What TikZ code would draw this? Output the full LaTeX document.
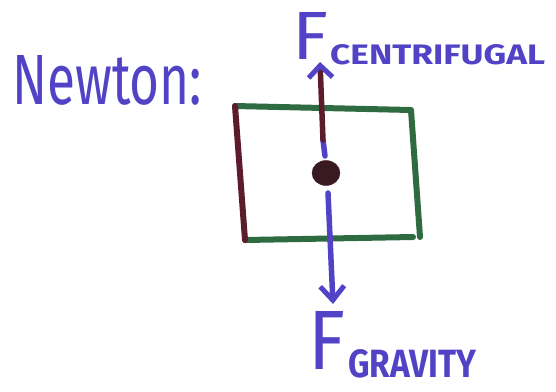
\documentclass[tikz,border=0pt]{standalone}
\usepackage{fontspec}
\setmainfont{Fira Sans}
\usetikzlibrary{arrows.meta,shapes.geometric}
\definecolor{ink}{HTML}{5243C6}
\definecolor{boxgreen}{HTML}{2F6B40}
\definecolor{maroon}{HTML}{5C1C2C}
\definecolor{dotc}{HTML}{3A1A22}
\tikzset{
  lbl/.style={anchor=south west,inner sep=0pt,text=ink,font=\bfseries},
  edge/.style={line width=6bp,line cap=round,line join=round},
  force/.style={line width=5.5bp,line cap=round},
}
\begin{document}
\begin{tikzpicture}[x=1bp,y=-1bp]
\useasboundingbox[fill=white] (0,0) rectangle (556,391);
% labels
\node[lbl,font=\mdseries] (newton) at (12,106) {\resizebox{190bp}{49bp}{Newton:}};
\node[lbl,font=\mdseries] (fc) at (292,60) {\resizebox{36bp}{47bp}{F}};
\node[lbl] (cf) at (330,65) {\resizebox{215bp}{20bp}{CENTRIFUGAL}};
\node[lbl,font=\mdseries] (fg) at (308,370) {\resizebox{37bp}{58bp}{F}};
\node[lbl] (gr) at (348,378) {\resizebox{128bp}{28bp}{GRAVITY}};
% box corners
\coordinate (tl) at (235,106);
\coordinate (tr) at (411,110);
\coordinate (br) at (420,237);
\coordinate (br2) at (413,237);
\coordinate (bl) at (245,240);
\draw[edge,boxgreen] (tl) -- (tr) -- (br);
\draw[edge,boxgreen] (bl) -- (br2);
\draw[edge,maroon] (tl) -- (bl);
% mass
\node[ellipse,draw=dotc,fill=dotc,minimum width=28bp,minimum height=25bp,inner sep=0pt] (m) at (326,173) {};
\coordinate (uptip) at (320,62);
\coordinate (downtip) at (333,304);
\coordinate (upstart) at (325,156);
\coordinate (downstart) at (328,193);
\draw[force,ink] (upstart) -- (323,140);
\draw[force,maroon,-{Straight Barb[length=12bp,width=24bp,color=ink,line width=5bp]}] (323,140) -- (uptip);
\draw[force,ink,-{Straight Barb[length=14bp,width=24bp,line width=5bp]}] (downstart) -- (downtip);
\end{tikzpicture}
\end{document}
